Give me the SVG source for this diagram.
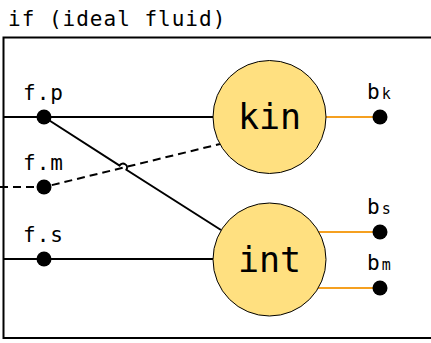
<svg xmlns="http://www.w3.org/2000/svg" width="431" height="343" viewBox="0 0 431 343">
<style>
text{font-family:"DejaVu Sans Mono","Liberation Mono",monospace;fill:#000}
.lbl{font-size:21px}
.big{font-size:35px}
.sub{font-size:15px}
.w{stroke:#000;stroke-width:2;fill:none}
.o{stroke:#f5a020;stroke-width:2;fill:none}
.dot{fill:#000}
.node{fill:#ffe080;stroke:#000;stroke-width:1}
</style>
<rect x="3.5" y="37.5" width="440" height="300.5" fill="#fff" stroke="#000" stroke-width="2"/>
<text class="lbl" x="8" y="26" letter-spacing="1">if (ideal fluid)</text>
<g id="connectors">
<line class="w" x1="3" y1="117" x2="214" y2="117"/>
<line class="w" x1="3" y1="259" x2="214" y2="259"/>
<path class="w" d="M0 187 L44 187 L220 144" stroke-dasharray="8 5"/>
<path class="w" d="M44 117 L119.6 165.5 A4 4 0 0 1 126.4 169.8 L221 230"/>
<line class="o" x1="325" y1="117" x2="380" y2="117"/>
<line class="o" x1="318" y1="232" x2="380" y2="232"/>
<line class="o" x1="318" y1="288" x2="380" y2="288"/>
</g>
<g id="kin"><circle class="node" cx="269.5" cy="117" r="56.5"/><text class="big" x="269.5" y="129" text-anchor="middle">kin</text></g>
<g id="int"><circle class="node" cx="269.5" cy="259.5" r="56.5"/><text class="big" x="269.5" y="271.5" text-anchor="middle">int</text></g>
<g id="fp"><circle class="dot" cx="44" cy="117" r="7.5"/><text class="lbl" x="23" y="100" letter-spacing="1">f.p</text></g>
<g id="fm"><circle class="dot" cx="44" cy="187" r="7.5"/><text class="lbl" x="23" y="170" letter-spacing="1">f.m</text></g>
<g id="fs"><circle class="dot" cx="44" cy="259" r="7.5"/><text class="lbl" x="23" y="242" letter-spacing="1">f.s</text></g>
<g id="bk"><circle class="dot" cx="380" cy="117" r="7.5"/><text class="lbl" x="367" y="99">b<tspan class="sub" dx="2">k</tspan></text></g>
<g id="bs"><circle class="dot" cx="380" cy="232" r="7.5"/><text class="lbl" x="367" y="214">b<tspan class="sub" dx="2">s</tspan></text></g>
<g id="bm"><circle class="dot" cx="380" cy="288" r="7.5"/><text class="lbl" x="367" y="270">b<tspan class="sub" dx="2">m</tspan></text></g>
</svg>
